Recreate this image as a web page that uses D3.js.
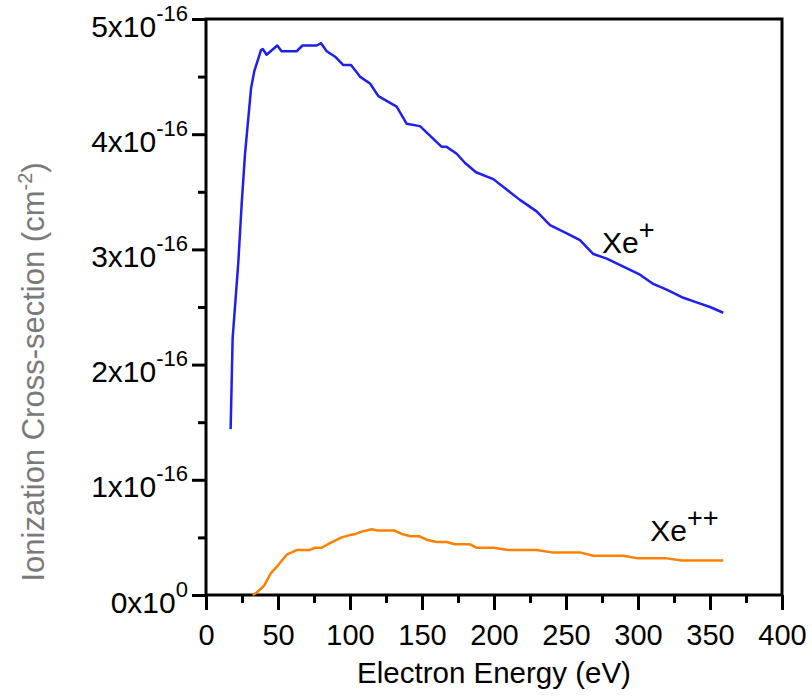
<!DOCTYPE html>
<html>
<head>
<meta charset="utf-8">
<script src="https://cdn.jsdelivr.net/npm/d3@7"></script>
<style>
  body { margin: 0; background: #fff; }
  text { font-family: "Liberation Sans", Arial, sans-serif; }
</style>
</head>
<body>
<div class="chart"></div>
<script>
// Xe+ single ionization, energy (eV) vs cross-section (cm^2)
var xePlusE = [17.1, 18.5, 22.4, 24.8, 27.1, 31.3, 33.6, 38.2, 39.4, 42.1, 49.5, 52.5, 63, 67, 76.9, 79.9,
  83.8, 90, 95.4, 100.7, 106.9, 113.9, 119.7, 132.4, 139.4, 148.6, 163.7, 167.1, 174.1, 179.9, 187.5,
  199.5, 218, 229.6, 238.9, 250.5, 259.7, 269, 278.3, 289.8, 301.4, 310.6, 319.9, 331.5, 340.7, 350, 359.2];
var xePlusS = [1.44, 2.23, 2.88, 3.40, 3.83, 4.40, 4.55, 4.73, 4.74, 4.69, 4.77, 4.72, 4.72, 4.77, 4.77, 4.79,
  4.72, 4.67, 4.60, 4.60, 4.50, 4.44, 4.33, 4.24, 4.09, 4.07, 3.89, 3.89, 3.83, 3.75, 3.67,
  3.61, 3.43, 3.33, 3.21, 3.14, 3.08, 2.96, 2.92, 2.85, 2.78, 2.70, 2.65, 2.58, 2.54, 2.50, 2.45];

// Xe++ double ionization
var xe2E = [32.4, 35.2, 40.3, 45.1, 50.2, 56, 63, 71.8, 75.7, 80.3, 86.1, 94.2, 100, 104, 108.1, 111.6,
  115, 119, 130.6, 135.9, 142.1, 148.1, 153.2, 160.2, 167.1, 172.9, 183.3, 188, 199.5, 210, 229.6,
  240, 259.7, 269, 289.8, 299, 318.8, 330.3, 359.2];
var xe2S = [0, 0.02, 0.08, 0.19, 0.26, 0.35, 0.39, 0.39, 0.41, 0.41, 0.45, 0.50, 0.52, 0.53, 0.55, 0.56,
  0.57, 0.56, 0.56, 0.53, 0.51, 0.51, 0.48, 0.46, 0.46, 0.44, 0.44, 0.41, 0.41, 0.39, 0.39,
  0.37, 0.37, 0.34, 0.34, 0.32, 0.32, 0.30, 0.30];

var xTicks = [0, 50, 100, 150, 200, 250, 300, 350, 400];
var xMinor = [25, 75, 125, 175, 225, 275, 325, 375];
var yTicks = [0, 1e-16, 2e-16, 3e-16, 4e-16, 5e-16];
var yMinor = [0.5e-16, 1.5e-16, 2.5e-16, 3.5e-16, 4.5e-16];

var margin = {top: 19, right: 30, bottom: 101, left: 206};
var width = 812 - margin.left - margin.right;
var height = 696 - margin.top - margin.bottom;

var x = d3.scaleLinear().domain([0, 400]).range([0, width]);
var y = d3.scaleLinear().domain([0, 5e-16]).range([height, 0]);

var svg = d3.select(".chart").append("svg")
    .attr("width", 812)
    .attr("height", 696)
  .append("g")
    .attr("transform", "translate(" + margin.left + "," + margin.top + ")");

// minor ticks
svg.append("g")
    .attr("transform", "translate(0," + height + ")")
    .call(d3.axisBottom(x).tickValues(xMinor).tickSize(8).tickFormat(""))
    .call(function(g) { g.select(".domain").remove(); });
svg.append("g")
    .call(d3.axisLeft(y).tickValues(yMinor).tickSize(8).tickFormat(""))
    .call(function(g) { g.select(".domain").remove(); });

// major ticks
var gx = svg.append("g")
    .attr("transform", "translate(0," + height + ")")
    .call(d3.axisBottom(x).tickValues(xTicks).tickSize(15).tickPadding(14));
gx.select(".domain").remove();
gx.selectAll("text").attr("font-size", 29).attr("fill", "#000")
    .attr("font-family", "Liberation Sans, Arial, sans-serif");

var gy = svg.append("g")
    .call(d3.axisLeft(y).tickValues(yTicks).tickSize(14).tickFormat(""));
gy.select(".domain").remove();
gy.selectAll(".tick").each(function(d) {
  var t = d3.select(this).append("text")
      .attr("x", -18)
      .attr("y", 17)
      .attr("text-anchor", "end")
      .attr("fill", "#000")
      .attr("font-size", 30);
  var m = Math.round(d / 1e-16);
  t.append("tspan").text(m + "x10");
  t.append("tspan").attr("dy", -16).attr("font-size", 22).text(m === 0 ? "0" : "-16");
});

svg.selectAll(".tick line").attr("stroke", "#000").attr("stroke-width", 3);

// frame
svg.append("rect")
    .attr("width", width)
    .attr("height", height)
    .attr("fill", "none")
    .attr("stroke", "#000")
    .attr("stroke-width", 3);

var line = d3.line()
    .x(function(d) { return x(d[0]); })
    .y(function(d) { return y(d[1] * 1e-16); });

svg.append("path")
    .datum(d3.zip(xePlusE, xePlusS))
    .attr("d", line)
    .attr("fill", "none")
    .attr("stroke", "#1f1ff0")
    .attr("stroke-width", 2.5)
    .attr("stroke-linejoin", "round");

svg.append("path")
    .datum(d3.zip(xe2E, xe2S))
    .attr("d", line)
    .attr("fill", "none")
    .attr("stroke", "#ff8000")
    .attr("stroke-width", 2.5)
    .attr("stroke-linejoin", "round");

// series labels
var l1 = svg.append("text")
    .attr("x", x(275))
    .attr("y", y(2.96e-16) - 1)
    .attr("font-size", 30)
    .attr("fill", "#000");
l1.append("tspan").text("Xe");
l1.append("tspan").attr("dy", -14).attr("font-size", 27).text("+");

var l2 = svg.append("text")
    .attr("x", x(308.5))
    .attr("y", y(0.46e-16) - 1)
    .attr("font-size", 30)
    .attr("fill", "#000");
l2.append("tspan").text("Xe");
l2.append("tspan").attr("dy", -14).attr("font-size", 27).text("++");

// axis titles
svg.append("text")
    .attr("x", width / 2)
    .attr("y", height + 88)
    .attr("text-anchor", "middle")
    .attr("font-size", 29.5)
    .attr("fill", "#000")
    .text("Electron Energy (eV)");

var yt = svg.append("text")
    .attr("transform", "translate(" + (44 - margin.left) + "," + (372 - margin.top) + ") rotate(-90)")
    .attr("text-anchor", "middle")
    .attr("font-size", 31)
    .attr("fill", "#7a7a7a");
yt.append("tspan").text("Ionization Cross-section (cm");
yt.append("tspan").attr("dy", -12).attr("font-size", 20).text("-2");
yt.append("tspan").attr("dy", 12).text(")");
</script>
</body>
</html>
